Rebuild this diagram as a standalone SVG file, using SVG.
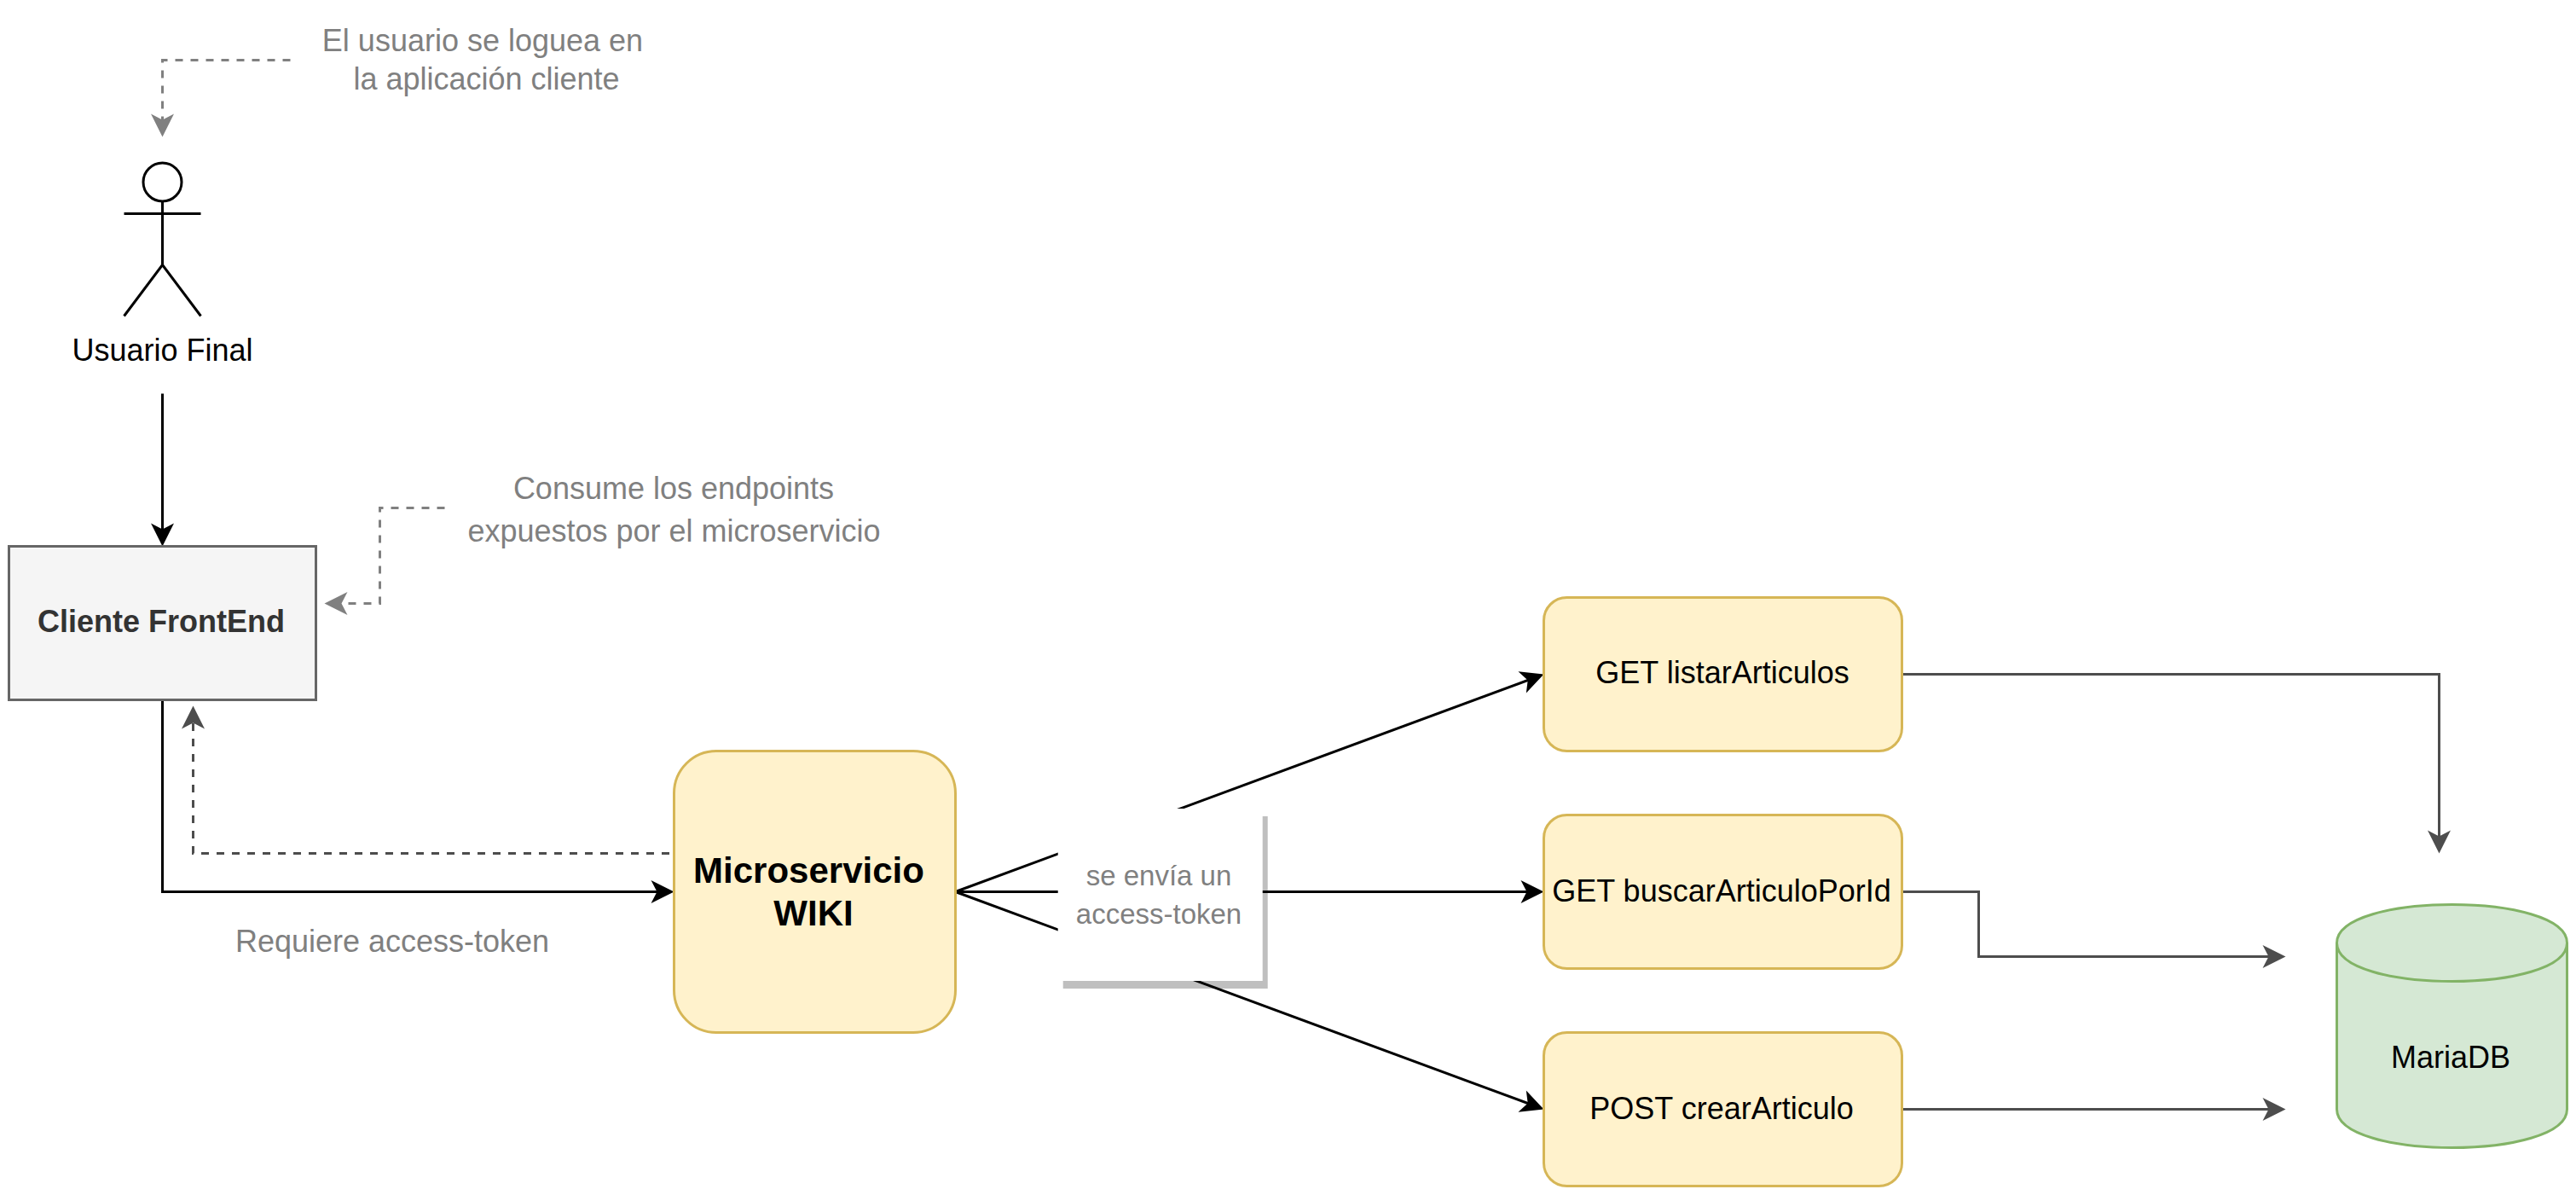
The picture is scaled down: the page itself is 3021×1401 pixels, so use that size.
<svg xmlns="http://www.w3.org/2000/svg" width="3021" height="1401" viewBox="0 0 3021 1401">
<style>
text{font-family:"Liberation Sans",Arial,sans-serif;font-size:36px;text-anchor:middle;fill:#000}
.n{fill:#808080}
.b{font-weight:bold}
.s{transform:translate(.5px,.5px)}
.y{fill:#fff2cc;stroke:#d6b656;stroke-width:3}
.l{fill:none;stroke-width:3;stroke-miterlimit:10}
.k{stroke:#000;marker-end:url(#mk)}
.d{stroke:#4d4d4d;marker-end:url(#md)}
.g{stroke:#808080;stroke-dasharray:9 9;marker-end:url(#mg)}
.a{fill:none;stroke:#000;stroke-width:3}
</style>
<defs>
<marker id="mk" markerUnits="userSpaceOnUse" markerWidth="28" markerHeight="28" refX="17" refY="13.5" orient="auto" overflow="visible"><path d="M0 0L27 13.5 0 27 7 13.5Z" fill="#000"/></marker>
<marker id="md" markerUnits="userSpaceOnUse" markerWidth="28" markerHeight="28" refX="17" refY="13.5" orient="auto" overflow="visible"><path d="M0 0L27 13.5 0 27 7 13.5Z" fill="#4d4d4d"/></marker>
<marker id="mg" markerUnits="userSpaceOnUse" markerWidth="28" markerHeight="28" refX="17" refY="13.5" orient="auto" overflow="visible"><path d="M0 0L27 13.5 0 27 7 13.5Z" fill="#808080"/></marker>
</defs>
<rect id="label-shadow" x="1246.7" y="957" width="240" height="202" fill="#bfbfbf"/>
<g id="connectors" transform="translate(.5 .5)">
<path class="l k" d="M190 461V630"/>
<path class="l k" d="M190 820V1045H780"/>
<path class="l d" style="stroke-dasharray:9 9" d="M784.500 1000H226V837"/>
<path class="l k" d="M1120 1045L1800.6 793.5"/>
<path class="l k" d="M1120 1045H1800"/>
<path class="l k" d="M1120 1045L1800.6 1296.5"/>
<path class="l d" d="M2230 790H2860V990"/>
<path class="l d" d="M2230 1045H2320V1121H2670"/>
<path class="l d" d="M2230 1300H2670"/>
<path class="l g" d="M340 70H190V150"/>
<path class="l g" d="M521 595H445V707H390"/>
</g>
<g id="note-login"><text class="n" x="566" y="60">El usuario se loguea en</text><text class="n" x="570.5" y="105">la aplicación cliente</text></g>
<g id="actor">
<ellipse class="a s" cx="190" cy="213" rx="22.5" ry="22.5"/>
<path class="a s" d="M190 235.500V310M145 250H235M145 370L190 310 235 370"/>
<text x="190.500" y="423">Usuario Final</text>
</g>
<g id="note-endpoints"><text class="n" x="790" y="585">Consume los endpoints</text><text class="n" x="790.500" y="635">expuestos por el microservicio</text></g>
<g id="cliente">
<rect class="s" x="10" y="640" width="360" height="180" fill="#f5f5f5" stroke="#666666" stroke-width="3"/>
<text class="b" x="189" y="741" style="fill:#333333">Cliente FrontEnd</text>
</g>
<g id="note-token"><text class="n" x="460" y="1116">Requiere access-token</text></g>
<g id="microservicio">
<rect class="y s" x="790" y="880" width="330" height="330" rx="49.500"/>
<text class="b" x="948.500" y="1035" style="font-size:42px">Microservicio</text>
<text class="b" x="954" y="1085" style="font-size:42px">WIKI</text>
</g>
<g id="label-token">
<rect x="1240.700" y="948" width="240" height="202" fill="#fff"/>
<text class="n" x="1359" y="1038" style="font-size:33px">se envía un</text>
<text class="n" x="1359" y="1083" style="font-size:33px">access-token</text>
</g>
<g id="listar"><rect class="y s" x="1810" y="700" width="420" height="180" rx="27"/><text x="2020" y="801">GET listarArticulos</text></g>
<g id="buscar"><rect class="y s" x="1810" y="955" width="420" height="180" rx="27"/><text x="2019" y="1056.500">GET buscarArticuloPorId</text></g>
<g id="crear"><rect class="y s" x="1810" y="1210" width="420" height="180" rx="27"/><text x="2019" y="1312">POST crearArticulo</text></g>
<g id="mariadb">
<path class="s" d="M2740 1105C2740 1045 3010 1045 3010 1105V1300C3010 1360 2740 1360 2740 1300Z" fill="#d5e8d4" stroke="#82b366" stroke-width="3"/>
<path class="s" d="M2740 1105C2740 1165 3010 1165 3010 1105" fill="none" stroke="#82b366" stroke-width="3"/>
<text x="2874" y="1252">MariaDB</text>
</g>
</svg>
